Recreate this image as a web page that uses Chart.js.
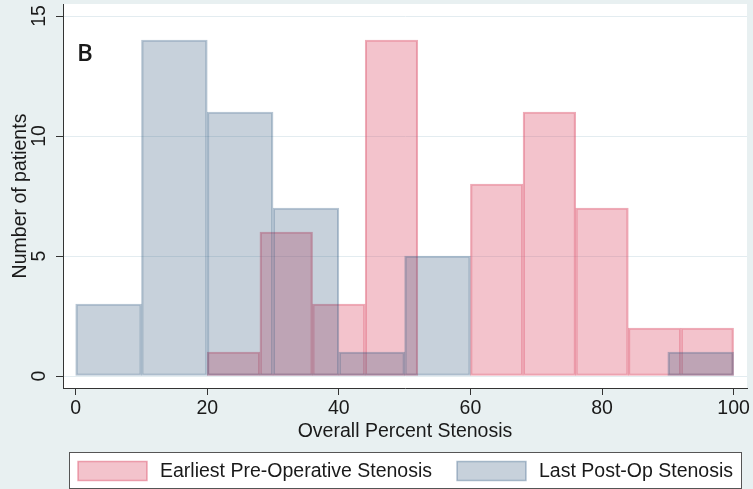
<!DOCTYPE html>
<html>
<head>
<meta charset="utf-8">
<script src="https://cdn.jsdelivr.net/npm/chart.js@4/dist/chart.umd.min.js"></script>
<style>
  html, body { margin: 0; padding: 0; background: #e8f0f1; }
  #wrap { width: 753px; height: 489px; }
</style>
</head>
<body>
<div id="wrap"><canvas id="chart" width="753" height="489"></canvas></div>
<script>
// histogram bins (bin centres) and counts
const preCenters = [24, 32, 40, 48, 56, 64, 72, 80, 88, 96];
const preCounts = [1, 6, 3, 14, 0, 8, 11, 7, 2, 2];
const postCenters = [5, 15, 25, 35, 45, 55, 65, 75, 85, 95];
const postCounts = [3, 14, 11, 7, 1, 5, 0, 0, 0, 1];
const seriesLabels = ["Earliest Pre-Operative Stenosis", "Last Post-Op Stenosis"];
const xTicks = [0, 20, 40, 60, 80, 100];
const yTicks = [0, 5, 10, 15];
const xTitle = "Overall Percent Stenosis";
const yTitle = "Number of patients";
const panelLabel = "B";

const FONT = "'Liberation Sans', Arial, sans-serif";
const TEXT = "#1a1a1a";
const AXIS = "#333333";

const pinkFill = "rgba(220, 80, 105, 0.34)";
const pinkLine = "rgba(220, 80, 105, 0.48)";
const blueFill = "rgba(30, 70, 110, 0.25)";
const blueLine = "rgba(40, 85, 125, 0.34)";

Chart.defaults.font.family = FONT;
Chart.defaults.font.size = 19.5;
Chart.defaults.color = TEXT;

const toPoints = (xs, ys) => xs.map((x, i) => ({ x: x, y: ys[i] }));
const fixTicks = (values) => (axis) => {
  axis.ticks = values.map((v) => ({ value: v }));
};

// backgrounds, rotated y labels, panel letter and boxed legend
const decor = {
  id: "decor",
  beforeDraw(chart) {
    const { ctx, chartArea: a } = chart;
    ctx.save();
    ctx.fillStyle = "#e8f0f1";
    ctx.fillRect(0, 0, chart.width, chart.height);
    ctx.fillStyle = "#ffffff";
    ctx.fillRect(a.left, a.top, a.right - a.left, a.bottom - a.top);
    ctx.restore();
  },
  afterDraw(chart) {
    const { ctx, chartArea: a } = chart;
    const y = chart.scales.y;
    ctx.save();
    ctx.fillStyle = TEXT;
    ctx.font = "19.5px " + FONT;
    ctx.textAlign = "center";
    ctx.textBaseline = "middle";
    yTicks.forEach((v) => {
      ctx.save();
      ctx.translate(40, y.getPixelForValue(v));
      ctx.rotate(-Math.PI / 2);
      ctx.fillText(String(v), 0, 0);
      ctx.restore();
    });
    ctx.save();
    ctx.translate(21, (a.top + a.bottom) / 2);
    ctx.rotate(-Math.PI / 2);
    ctx.fillText(yTitle, 0, 0);
    ctx.restore();

    ctx.font = "600 24px 'Open Sans', sans-serif";
    ctx.textAlign = "left";
    ctx.fillText(panelLabel, a.left + 14, 54);

    // legend box
    ctx.fillStyle = "#ffffff";
    ctx.fillRect(69.5, 452.5, 672, 36);
    ctx.strokeStyle = "#555555";
    ctx.lineWidth = 1;
    ctx.strokeRect(69.5, 452.5, 672, 36);
    const items = [
      { x: 78, tx: 160, ds: chart.data.datasets[0] },
      { x: 457, tx: 539, ds: chart.data.datasets[1] },
    ];
    ctx.font = "19.5px " + FONT;
    items.forEach((it) => {
      ctx.fillStyle = it.ds.backgroundColor;
      ctx.fillRect(it.x, 461.5, 69, 19);
      ctx.strokeStyle = it.ds.borderColor;
      ctx.lineWidth = 1.5;
      ctx.strokeRect(it.x, 461.5, 69, 19);
      ctx.fillStyle = TEXT;
      ctx.textBaseline = "middle";
      ctx.fillText(it.ds.label, it.tx, 471.5);
    });
    ctx.restore();
  },
};

new Chart(document.getElementById("chart"), {
  type: "bar",
  data: {
    datasets: [
      {
        label: seriesLabels[0],
        data: toPoints(preCenters, preCounts),
        xAxisID: "x",
        backgroundColor: pinkFill,
        borderColor: pinkLine,
        borderWidth: 1.5,
        borderSkipped: false,
        order: 2,
      },
      {
        label: seriesLabels[1],
        data: toPoints(postCenters, postCounts),
        xAxisID: "x2",
        backgroundColor: blueFill,
        borderColor: blueLine,
        borderWidth: 1.5,
        borderSkipped: false,
        order: 1,
      },
    ],
  },
  options: {
    responsive: false,
    animation: false,
    events: [],
    grouped: false,
    barPercentage: 1,
    categoryPercentage: 1,
    layout: { padding: { top: 4, right: 6, bottom: 39, left: 0 } },
    plugins: {
      legend: { display: false },
      tooltip: { enabled: false },
    },
    scales: {
      x: {
        type: "linear",
        offset: false,
        min: -1.93,
        max: 102.04,
        afterBuildTicks: fixTicks(xTicks),
        afterFit: (axis) => { axis.height = 62; },
        grid: { offset: false, drawOnChartArea: false, drawTicks: true, tickLength: 7, tickColor: AXIS },
        border: { color: AXIS, width: 1 },
        ticks: { padding: 2, maxRotation: 0, color: TEXT },
        title: { display: true, text: xTitle, padding: { top: 0, bottom: 7 }, color: TEXT },
      },
      x2: {
        type: "linear",
        display: false,
        offset: false,
        grid: { offset: false },
        min: -1.93,
        max: 102.04,
        afterBuildTicks: fixTicks(xTicks),
      },
      y: {
        min: -0.5,
        max: 15.5,
        afterBuildTicks: fixTicks(yTicks),
        afterFit: (axis) => { axis.width = 63; },
        grid: { color: "#e3ecf0", lineWidth: 1, drawTicks: true, tickLength: 7, tickColor: AXIS },
        border: { color: AXIS, width: 1 },
        ticks: { display: false },
      },
    },
  },
  plugins: [decor],
});
</script>
</body>
</html>
